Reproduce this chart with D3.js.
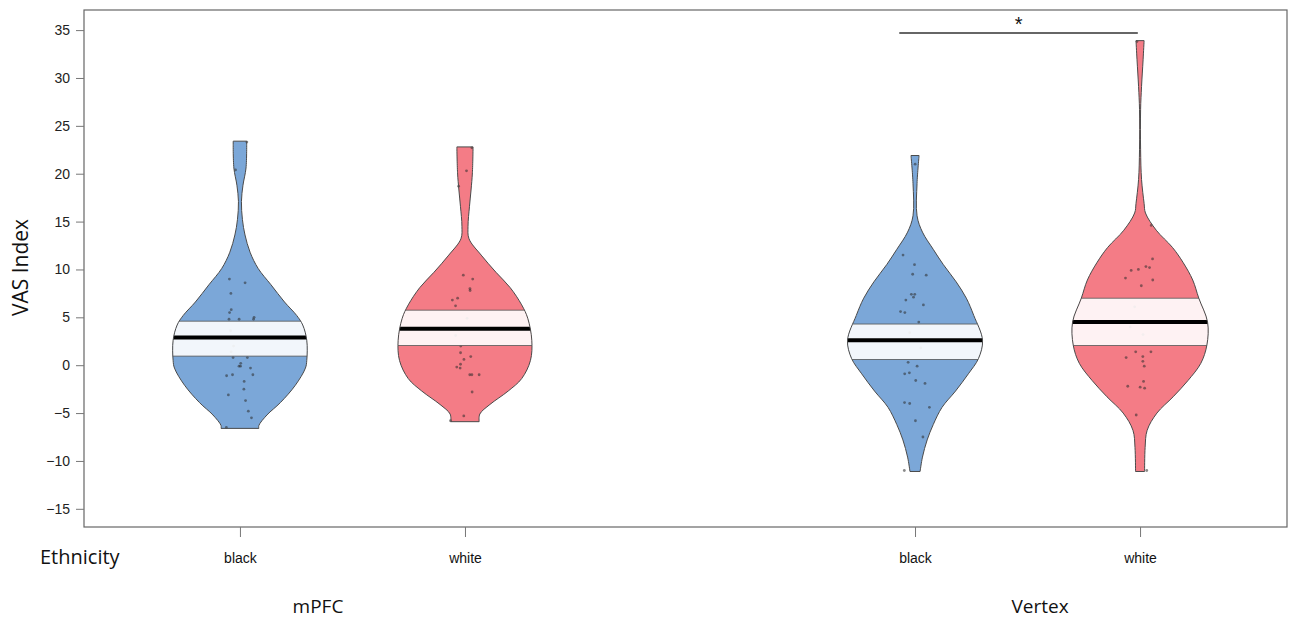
<!DOCTYPE html>
<html>
<head>
<meta charset="utf-8">
<script src="https://cdn.jsdelivr.net/npm/d3@7"></script>
<style>
  body { margin: 0; background: #fff; }
  svg text { font-family: "Liberation Sans", Arial, sans-serif; }
  .note { font-family: "Open Sans", "Liberation Sans", sans-serif; }
</style>
</head>
<body>
<div id="chart"></div>
<script>
// regions and groups
const regions = ["mPFC", "Vertex"];
const groups = ["black", "white"];
const yTicks = [-15, -10, -5, 0, 5, 10, 15, 20, 25, 30, 35];

// bean outline: [value, relative density]
const beanMpfcBlack = [[23.4, 0.10], [20.6, 0.09], [18.8, 0.045], [17.1, 0.022], [15.2, 0.037], [13.6, 0.075],
  [11.8, 0.15], [10.1, 0.27], [8.4, 0.46], [6.6, 0.66], [5.2, 0.84], [4.2, 0.93], [2.6, 0.99], [0.5, 0.99],
  [-0.3, 0.97], [-2.1, 0.82], [-3.9, 0.60], [-5.2, 0.40], [-6.3, 0.28], [-6.6, 0.28]];
const beanMpfcWhite = [[22.8, 0.12], [20.1, 0.11], [18.3, 0.09], [16.6, 0.067], [14.5, 0.045], [13.2, 0.06],
  [11.5, 0.24], [9.7, 0.46], [8.1, 0.67], [6.3, 0.84], [4.9, 0.93], [2.6, 0.99], [0.5, 0.97],
  [-1.4, 0.84], [-2.7, 0.64], [-4.1, 0.37], [-5.1, 0.22], [-5.9, 0.21]];
const beanVertexBlack = [[21.9, 0.06], [19.0, 0.03], [15.6, 0.03], [13.9, 0.11], [12.1, 0.27], [10.5, 0.42],
  [8.7, 0.61], [7.0, 0.76], [5.2, 0.87], [2.6, 1.0], [0.7, 0.94], [-0.9, 0.79], [-2.7, 0.60],
  [-4.4, 0.40], [-6.2, 0.27], [-7.8, 0.18], [-9.6, 0.11], [-11.1, 0.075]];
const beanVertexWhite = [[33.9, 0.06], [31.9, 0.045], [29.1, 0.022], [26.7, 0.008], [22.5, 0.008], [19.4, 0.022],
  [16.9, 0.06], [15.9, 0.08], [14.1, 0.24], [12.3, 0.48], [10.7, 0.64], [8.9, 0.78], [7.0, 0.87],
  [4.5, 1.0], [2.1, 0.99], [0.2, 0.90], [-1.6, 0.71], [-3.3, 0.49], [-5.0, 0.25], [-6.8, 0.105],
  [-8.6, 0.075], [-11.1, 0.067]];

// means and inference bands [low, high]
const means = [2.9, 3.8, 2.6, 4.5];
const bands = [[0.95, 4.6], [2.05, 5.75], [0.6, 4.3], [2.05, 7.0]];

// raw points (VAS index)
const ptsMpfcBlack = [23.3, 20.4, 9.0, 8.6, 7.5, 5.8, 5.5, 4.8, 4.8, 5.0, 4.8, 3.6, 2.0, 1.4, 0.8, 0.8,
  -0.1, 0.2, -0.1, -0.3, -1.1, -1.0, -1.0, -1.7, -2.5, -3.1, -3.7, -4.8, -5.5, -6.5];
const ptsMpfcWhite = [22.7, 20.3, 18.7, 9.4, 9.0, 8.0, 7.8, 7.0, 6.8, 6.2, 4.9, 3.1, 2.0, 0.9, 1.3,
  0.6, 0.1, -0.3, -0.2, -1.0, -1.0, -1.0, -2.8, -5.3, -5.8];
const ptsVertexBlack = [21.0, 11.5, 10.5, 9.4, 9.5, 7.4, 7.4, 7.1, 6.8, 6.3, 5.6, 5.5, 4.5, 3.4, 1.8, 0.3,
  -0.1, -0.8, -0.9, -1.6, -1.9, -3.9, -4.0, -4.4, -5.8, -7.5, -11.0];
const ptsVertexWhite = [33.8, 14.6, 11.1, 10.3, 10.0, 10.2, 9.9, 9.1, 8.9, 8.3, 6.1, 4.0, 3.2, 1.4, 1.4,
  0.9, 0.8, 0.4, -0.1, -1.7, -2.2, -2.3, -2.4, -5.2, -11.0];

// significance bracket
const sigRange = [3.93, 4.99];
const sigValue = 34.7;
const sigLabel = "*";

const beans = [beanMpfcBlack, beanMpfcWhite, beanVertexBlack, beanVertexWhite];
const points = [ptsMpfcBlack, ptsMpfcWhite, ptsVertexBlack, ptsVertexWhite];
const fills = { black: "#7ba7d8", white: "#f47c86" };

const W = 1300, H = 619;
const margin = { top: 10, right: 13, bottom: 92, left: 84 };

const svg = d3.select("#chart").append("svg")
  .attr("width", W).attr("height", H);

const x = d3.scaleLinear().domain([0.307, 5.653]).range([margin.left, W - margin.right]);
const y = d3.scaleLinear().domain([-16.9, 37.1]).range([H - margin.bottom, margin.top]);
const beanWidth = 0.3; // half width in x units

// position of each group: region r, group g -> r*3 + g + 1
const cells = [];
regions.forEach((r, ri) => groups.forEach((g, gi) => cells.push({ region: r, group: g, pos: ri * 3 + gi + 1 })));

const rand = d3.randomLcg(0.42);
const jitter = d3.randomUniform.source(rand)(-0.065, 0.065);

const defs = svg.append("defs");

cells.forEach((c, i) => {
  const cx = x(c.pos);
  const wpx = d => (x(c.pos + beanWidth * d) - cx);
  const area = d3.area()
    .curve(d3.curveCatmullRom.alpha(0.5))
    .y(d => y(d[0]))
    .x0(d => cx - wpx(d[1]))
    .x1(d => cx + wpx(d[1]));
  const path = area(beans[i]);

  defs.append("clipPath").attr("id", "clip" + i).append("path").attr("d", path);

  const g = svg.append("g");
  g.append("path").attr("d", path).attr("fill", fills[c.group]);

  g.selectAll("circle").data(points[i]).join("circle")
    .attr("cx", () => x(c.pos + jitter()))
    .attr("cy", d => y(d))
    .attr("r", 1.4)
    .attr("fill", "#2b2b2b")
    .attr("opacity", 0.55);

  const clipped = g.append("g").attr("clip-path", `url(#clip${i})`);
  clipped.append("rect")
    .attr("x", cx - 80).attr("width", 160)
    .attr("y", y(bands[i][1])).attr("height", y(bands[i][0]) - y(bands[i][1]))
    .attr("fill", "#fff").attr("fill-opacity", 0.9)
    .attr("stroke", "#555").attr("stroke-width", 0.8);
  clipped.append("line")
    .attr("x1", cx - 80).attr("x2", cx + 80)
    .attr("y1", y(means[i])).attr("y2", y(means[i]))
    .attr("stroke", "#000").attr("stroke-width", 4);

  g.append("path").attr("d", path)
    .attr("fill", "none").attr("stroke", "#4a4a4a").attr("stroke-width", 1);
});

// frame
svg.append("rect")
  .attr("x", margin.left).attr("y", margin.top)
  .attr("width", W - margin.left - margin.right)
  .attr("height", H - margin.top - margin.bottom)
  .attr("fill", "none").attr("stroke", "#666").attr("stroke-width", 1.2);

// y axis
const yAxis = svg.append("g")
  .attr("transform", `translate(${margin.left},0)`)
  .call(d3.axisLeft(y).tickValues(yTicks).tickSize(8).tickPadding(6));
yAxis.select(".domain").remove();
yAxis.selectAll("line").attr("stroke", "#777");
yAxis.selectAll("text").attr("font-size", 14).attr("fill", "#222");

// x axis
const xAxis = svg.append("g")
  .attr("transform", `translate(0,${H - margin.bottom})`)
  .call(d3.axisBottom(x).tickValues(cells.map(c => c.pos)).tickSize(10).tickPadding(16)
    .tickFormat((d, i) => cells[i].group));
xAxis.select(".domain").remove();
xAxis.selectAll("line").attr("stroke", "#777");
xAxis.selectAll("text").attr("font-size", 14).attr("fill", "#111");

// axis titles
svg.append("text")
  .attr("class", "note")
  .attr("transform", `translate(28,${y(10.2)}) rotate(-90)`)
  .attr("text-anchor", "middle")
  .attr("font-size", 21)
  .attr("fill", "#111")
  .text("VAS Index");

svg.append("text")
  .attr("class", "note")
  .attr("x", 40).attr("y", 564)
  .attr("font-size", 20)
  .attr("fill", "#111")
  .text("Ethnicity");

const regionLabelX = [318, 1040];
regions.forEach((r, ri) => {
  svg.append("text")
    .attr("class", "note")
    .attr("x", regionLabelX[ri]).attr("y", 613)
    .attr("text-anchor", "middle")
    .attr("font-size", 19)
    .attr("fill", "#111")
    .text(r);
});

// significance
svg.append("line")
  .attr("x1", x(sigRange[0])).attr("x2", x(sigRange[1]))
  .attr("y1", y(sigValue)).attr("y2", y(sigValue))
  .attr("stroke", "#333").attr("stroke-width", 1.5);
svg.append("text")
  .attr("x", x((sigRange[0] + sigRange[1]) / 2)).attr("y", y(sigValue) - 2)
  .attr("text-anchor", "middle")
  .attr("font-size", 20)
  .attr("fill", "#111")
  .text(sigLabel);
</script>
</body>
</html>
